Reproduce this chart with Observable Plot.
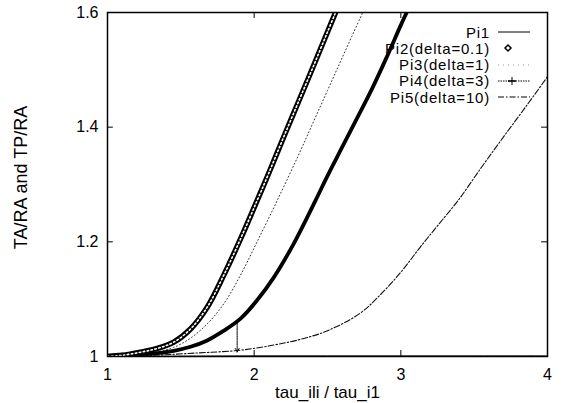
<!DOCTYPE html>
<html><head><meta charset="utf-8">
<script src="https://cdn.jsdelivr.net/npm/d3@7"></script>
<script src="https://cdn.jsdelivr.net/npm/@observablehq/plot@0.6"></script>
<style>
body{margin:0;background:#fff;}
#wrap{position:relative;width:562px;height:403px;font-family:"Liberation Sans",Arial,sans-serif;overflow:hidden;}
.lt{position:absolute;right:72px;font-size:15px;line-height:15px;letter-spacing:0.8px;white-space:nowrap;color:#000;}
.ls{position:absolute;left:496px;width:36px;height:16px;}
</style></head><body>
<div id="wrap"><div id="chart"></div><div id="legend"></div></div>
<script>
// ---- data ----
const seriesNames = ["Pi1", "Pi2(delta=0.1)", "Pi3(delta=1)", "Pi4(delta=3)", "Pi5(delta=10)"];

const pi1X = [1.0, 1.5, 2.0, 2.5, 3.0, 3.5, 4.0];
const pi1Y = [1.0, 1.0005, 1.001, 1.001, 1.001, 1.001, 1.001];

const pi2X = [1.0, 1.1, 1.225, 1.339, 1.452, 1.566, 1.68, 1.793, 1.907, 2.02, 2.1, 2.2, 2.3, 2.4, 2.5, 2.555];
const pi2Y = [1.0, 1.002, 1.0075, 1.014, 1.025, 1.048, 1.086, 1.142, 1.205, 1.272, 1.32, 1.382, 1.443, 1.504, 1.566, 1.6];

const pi3X = [1.0, 1.2, 1.339, 1.452, 1.566, 1.68, 1.793, 1.907, 2.02, 2.157, 2.3, 2.4, 2.5, 2.6, 2.74];
const pi3Y = [1.0, 1.003, 1.008, 1.016, 1.032, 1.057, 1.092, 1.142, 1.2, 1.272, 1.35, 1.407, 1.464, 1.521, 1.6];

const pi4X = [1.0, 1.2, 1.339, 1.452, 1.566, 1.68, 1.793, 1.907, 2.02, 2.134, 2.27, 2.418, 2.5, 2.6, 2.7, 2.8, 2.9, 3.0, 3.04];
const pi4Y = [1.0, 1.003, 1.006, 1.01, 1.017, 1.028, 1.045, 1.066, 1.098, 1.138, 1.197, 1.272, 1.315, 1.365, 1.415, 1.465, 1.52, 1.578, 1.6];

const pi5X = [1.0, 1.3, 1.6, 1.907, 2.134, 2.316, 2.5, 2.72, 2.85, 3.0, 3.13, 3.25, 3.39, 3.55, 3.7, 3.85, 4.0];
const pi5Y = [1.0, 1.002, 1.006, 1.011, 1.02, 1.03, 1.045, 1.075, 1.105, 1.147, 1.19, 1.228, 1.272, 1.33, 1.383, 1.435, 1.488];

const arrowX = [1.884];
const arrowFrom = [1.062];
const arrowTo = [1.008];

const xTicks = [1, 2, 3, 4];
const xTickLabels = ["1", "2", "3", "4"];
const yTicks = [1, 1.2, 1.4, 1.6];
const yTickLabels = ["1", "1.2", "1.4", "1.6"];
const xLabel = "tau_ili / tau_i1";
const yLabel = "TA/RA and TP/RA";
// --------------------------------------

const toRows = (xs, ys) => xs.map((x, i) => ({x, y: ys[i]}));
const pi1 = toRows(pi1X, pi1Y), pi2 = toRows(pi2X, pi2Y), pi3 = toRows(pi3X, pi3Y),
      pi4 = toRows(pi4X, pi4Y), pi5 = toRows(pi5X, pi5Y);
const arrows = arrowX.map((x, i) => ({x, y1: arrowFrom[i], y2: arrowTo[i]}));

const xDom = [1, 4], yDom = [1, 1.6];
const tx = 0.04, ty = 0.0105; // inward tick length
const curve = "catmull-rom";

const chart = Plot.plot({
  width: 562, height: 403,
  marginLeft: 107, marginRight: 15, marginTop: 12, marginBottom: 47,
  style: {fontFamily: "'Liberation Sans', Arial, sans-serif", fontSize: "16px", color: "black", background: "white"},
  x: {domain: xDom},
  y: {domain: yDom},
  marks: [
    Plot.axisX(xTicks, {tickSize: 0, tickPadding: 12, fontSize: 16, tickFormat: d => xTickLabels[xTicks.indexOf(d)], label: null}),
    Plot.axisY(yTicks, {tickSize: 0, tickPadding: 9, fontSize: 16, tickFormat: d => yTickLabels[yTicks.indexOf(d)], label: null}),
    Plot.text([xLabel], {text: d => d, frameAnchor: "bottom", dy: 36, textAnchor: "middle", lineAnchor: "middle", fontSize: 17}),
    Plot.text([yLabel], {text: d => d, frameAnchor: "left", rotate: -90, dx: -86, dy: -7, textAnchor: "middle", lineAnchor: "middle", fontSize: 18}),
    // inward ticks (bottom/top, left/right)
    Plot.ruleX(xTicks.slice(1, -1), {x: d => d, y1: yDom[0], y2: yDom[0] + ty, stroke: "black"}),
    Plot.ruleX(xTicks.slice(1, -1), {x: d => d, y1: yDom[1], y2: yDom[1] - ty, stroke: "black"}),
    Plot.ruleY(yTicks.slice(1, -1), {y: d => d, x1: xDom[0], x2: xDom[0] + tx, stroke: "black"}),
    Plot.ruleY(yTicks.slice(1, -1), {y: d => d, x1: xDom[1], x2: xDom[1] - tx, stroke: "black"}),
    // series
    Plot.line(pi1, {x: "x", y: "y", stroke: "black", strokeWidth: 1, curve, clip: true}),
    Plot.line(pi5, {x: "x", y: "y", stroke: "#111", strokeWidth: 1.1, strokeDasharray: "6,2,1.5,2", curve, clip: true}),
    Plot.line(pi3, {x: "x", y: "y", stroke: "#333", strokeWidth: 1, strokeDasharray: "1,2.5", curve, clip: true}),
    Plot.line(pi4, {x: "x", y: "y", stroke: "black", strokeWidth: 3.8, curve, clip: true}),
    Plot.line(pi2, {x: "x", y: "y", stroke: "black", strokeWidth: 5.5, curve, clip: true}),
    Plot.line(pi2, {x: "x", y: "y", stroke: "white", strokeWidth: 1.6, strokeDasharray: "1.5,2.5", curve, clip: true}),
    Plot.arrow(arrows, {x1: "x", x2: "x", y1: "y1", y2: "y2", stroke: "black", strokeWidth: 1, headLength: 6, strokeDasharray: "1.5,1"}),
    Plot.frame({stroke: "black", strokeWidth: 1.5})
  ]
});
document.getElementById("chart").appendChild(chart);

// legend inside the frame, top-right
const legend = document.getElementById("legend");
const samples = [
  '<line x1="2" y1="8" x2="34" y2="8" stroke="black" stroke-width="1"/>',
  '<path d="M12,5 L15,8 L12,11 L9,8 Z" fill="white" stroke="black" stroke-width="1.5"/>',
  '<line x1="2" y1="8" x2="34" y2="8" stroke="#999" stroke-width="1" stroke-dasharray="1,4"/>',
  '<line x1="2" y1="8" x2="34" y2="8" stroke="black" stroke-width="1" stroke-dasharray="1.5,1"/><line x1="16" y1="4" x2="16" y2="12" stroke="black" stroke-width="1"/><line x1="12" y1="8" x2="20" y2="8" stroke="black" stroke-width="1.5"/>',
  '<line x1="2" y1="8" x2="34" y2="8" stroke="black" stroke-width="1" stroke-dasharray="6,2,1.5,2"/>'
];
seriesNames.forEach((name, i) => {
  const cy = 32 + i * 16.3;
  const t = document.createElement("div");
  t.className = "lt"; t.style.top = (cy - 7.5) + "px"; t.textContent = name;
  legend.appendChild(t);
  const s = document.createElement("div");
  s.className = "ls"; s.style.top = (cy - 8) + "px";
  s.innerHTML = '<svg width="36" height="16">' + samples[i] + '</svg>';
  legend.appendChild(s);
});
</script>
</body></html>
